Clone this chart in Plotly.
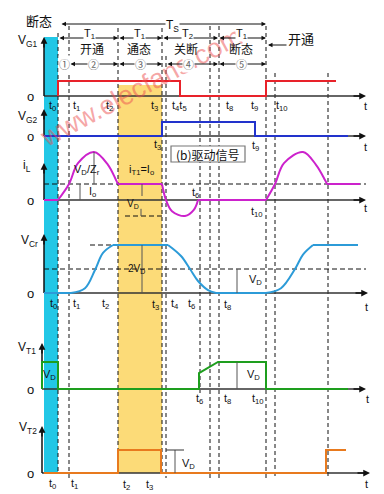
import plotly.graph_objects as go

# ---------------- DATA (arbitrary time units, t0 = 0; amplitudes in panel units) -------------
# dashed guide instants
guide_t = [0, 11, 60, 104, 108, 142, 152, 161, 208, 217, 270]

# V_G1 drive (0/1)
vg1_t = [0, 0, 122, 122, 208, 208, 278]
vg1_v = [0, 1, 1, 0, 0, 1, 1]
# V_G2 drive (0/1)
vg2_t = [-14, 104, 104, 197, 197, 290]
vg2_v = [0, 0, 1, 1, 0, 0]
# i_L (units of Io; VD/Zr = 2)
iL_line_t = [-14, 0, None, 60, 104, None, 140, 208, None, 269, 302]
iL_line_v = [0, 0, None, 1, 1, None, 0, 0, None, 1, 1]
iL_arc_t = [0, 11, 20, 36, 50, 58, 60, None, 104, 108, 114, 127, 136, 140, None,
            208, 217, 226, 245, 258, 267, 269]
iL_arc_v = [0, 1, 2.3, 3, 2.2, 1.25, 1, None, 1, 0, -0.7, -1, -0.6, 0, None,
            0, 1, 2.3, 3, 2.2, 1.25, 1]
# V_Cr (units of VD)
vcr_line_t = [-14, 13, None, 55, 110, None, 158, 208, None, 255, 300]
vcr_line_v = [0, 0, None, 2, 2, None, 0, 0, None, 2, 2]
vcr_curve_t = [13, 27, 37, 45, 55, None, 110, 123, 132, 140, 150, 158, None,
               208, 223, 237, 245, 255]
vcr_curve_v = [0, 0.2, 0.96, 1.67, 2, None, 2, 1.54, 1, 0.5, 0.12, 0, None,
               0, 0.2, 1, 1.6, 2]
# V_T1 (units of VD)
vt1_t = [-16, -16, 0, 0, 141, 141, 160, 208, 208, 290]
vt1_v = [0, 1, 1, 0, 0, 0.59, 1, 1, 0, 0]
# V_T2 (units of VD)
vt2_t = [-14, 60, 60, 103, 103, 268, 268, 288]
vt2_v = [0, 0, 1, 1, 0, 0, 1, 1]

# ---------------- LAYOUT ----------------------------------------------------------------
W, H = 384, 494
LAT = "Liberation Sans, Arial, sans-serif"
CJK = "Noto Sans CJK SC, sans-serif"
X0 = 50  # pixel position of t0

# panel: (baseline px, px per unit)
panels = {"y": (88, 15), "y2": (128, 14), "y3": (192, 16),
          "y4": (285, 24), "y5": (381, 27), "y6": (465, 23)}

fig = go.Figure()

def tr(x, y, yax, color, width=2, shape="linear"):
    fig.add_trace(go.Scatter(x=x, y=y, mode="lines", yaxis=yax,
                             line=dict(color=color, width=width, shape=shape, smoothing=1.0),
                             connectgaps=False, hoverinfo="skip", showlegend=False))

tr(vg1_t, vg1_v, "y", "#E8222A")
tr(vg2_t, vg2_v, "y2", "#2233CC")
tr(iL_line_t, iL_line_v, "y3", "#CC22CC")
tr(iL_arc_t, iL_arc_v, "y3", "#CC22CC", shape="spline")
tr(vcr_line_t, vcr_line_v, "y4", "#2C9BD8")
tr(vcr_curve_t, vcr_curve_v, "y4", "#2C9BD8", shape="spline")
tr(vt1_t, vt1_v, "y5", "#1E9E1E")
tr(vt2_t, vt2_v, "y6", "#E87A1E")

def px(x):
    return x / W

def py(y):
    return 1 - y / H

shapes = []
# coloured bands
shapes.append(dict(type="rect", xref="x", yref="paper", x0=-14, x1=0, y0=py(465), y1=py(29),
                   fillcolor="#22C7E6", line_width=0, layer="below"))
shapes.append(dict(type="rect", xref="x", yref="paper", x0=60, x1=104, y0=py(465), y1=py(77),
                   fillcolor="#FCDB78", line_width=0, layer="below"))
# dashed guides
g_ext = [(25, 465), (18, 470), (20, 465), (20, 465), (48, 470), (95, 385),
         (18, 470), (18, 470), (18, 470), (65, 470), (65, 470)]
for t, (a, b) in zip(guide_t, g_ext):
    shapes.append(dict(type="line", xref="x", yref="paper", x0=t, x1=t, y0=py(a), y1=py(b),
                       line=dict(color="#111", width=1, dash="4px,3px"), layer="below"))
# horizontal dashed references
def hdash(yax, v, ta, tb):
    shapes.append(dict(type="line", xref="x", yref=yax, x0=ta, x1=tb, y0=v, y1=v,
                       line=dict(color="#111", width=1, dash="5px,3px"), layer="below"))
hdash("y3", 1, -14, 308)
hdash("y3", -1, 67, 107)
hdash("y4", 2, 32, 56)
hdash("y4", 1, -14, 308)

# axes (lines below traces)
ax_top = {"y": 29, "y2": 101, "y3": 155, "y4": 226, "y5": 335, "y6": 418}
ax_end = {"y": 358, "y2": 358, "y3": 358, "y4": 360, "y5": 358, "y6": 362}
ax_x = {"y": 36, "y2": 36, "y3": 36, "y4": 36, "y5": 34, "y6": 34}
for k, (base, unit) in panels.items():
    shapes.append(dict(type="line", xref="paper", yref="paper", x0=px(ax_x[k]), x1=px(ax_end[k] - 4),
                       y0=py(base), y1=py(base), line=dict(color="#333", width=1.5), layer="below"))
    shapes.append(dict(type="line", xref="paper", yref="paper", x0=px(ax_x[k]), x1=px(ax_x[k]),
                       y0=py(base), y1=py(ax_top[k] + 4), line=dict(color="#111", width=1.5), layer="below"))

# marker lines (solid grey)
def vmark(yax, t, va, vb, color="#555"):
    shapes.append(dict(type="line", xref="x", yref=yax, x0=t, x1=t, y0=va, y1=vb,
                       line=dict(color=color, width=1)))
vmark("y3", 36, 1, 3)
vmark("y3", 22, 0, 1)
vmark("y3", 84, 1, 0.25)
vmark("y3", 83, -0.55, -1)
vmark("y4", 84, 0, 2)
vmark("y4", 179, 0, 1)
vmark("y5", 179, 0, 1)
vmark("y6", 117, 0, 1)
shapes.append(dict(type="line", xref="x", yref="y6", x0=108, x1=126, y0=1, y1=1,
                   line=dict(color="#333", width=1)))
# label box
shapes.append(dict(type="rect", xref="paper", yref="paper", x0=px(163), x1=px(237), y0=py(154), y1=py(138),
                   fillcolor="white", line=dict(color="#777", width=1.2), layer="above"))

ann = []

def txt(x, y, s, size=11, color="#111", family=LAT, bg=None, angle=0):
    d = dict(x=px(x), y=py(y), xref="paper", yref="paper", text=s, showarrow=False,
             font=dict(size=size, color=color, family=family), xanchor="center", yanchor="middle",
             textangle=angle)
    if bg:
        d["bgcolor"] = bg
        d["borderpad"] = 0
    ann.append(d)

def arrow(xh, yh, xt, yt, both=False, width=1.2, size=0.9, color="#111"):
    d = dict(x=px(xh), y=py(yh), xref="paper", yref="paper", ax=xt - xh, ay=yt - yh,
             showarrow=True, arrowhead=2, arrowsize=size, arrowwidth=width, arrowcolor=color, text="")
    if both:
        d["arrowside"] = "end+start"
        d["startarrowhead"] = 2
        d["startarrowsize"] = size
    ann.append(d)

# watermark (drawn first so other labels sit on top)
txt(133, 79, "www.elecfans.com", 27, color="rgba(236,80,80,0.5)", angle=-28)

# axis arrowheads
for k, (base, unit) in panels.items():
    arrow(ax_x[k], ax_top[k], ax_x[k], ax_top[k] + 12, width=1.5)
    arrow(ax_end[k], base, ax_end[k] - 14, base, width=1.5)

# header
txt(31, 13, "断态", 13, family=CJK)
arrow(258, 16, 52, 16, both=True, width=1)
txt(164, 18, "T<sub>S</sub>", 12, bg="white")
for a, b, lab, xc in [(50, 110, "T<sub>1</sub>", 81), (110, 154, "T<sub>1</sub>", 131),
                      (154, 210, "T<sub>2</sub>", 179), (210, 258, "T<sub>1</sub>", 233)]:
    arrow(b, 30, a, 30, both=True, width=1)
    txt(xc, 26, lab, 11, bg="white")
for s, xc in [("开通", 84), ("通态", 131), ("关断", 178), ("断态", 233)]:
    txt(xc, 41, s, 12, family=CJK)
for a, b, lab, xc in [(61, 110, "②", 85), (110, 154, "③", 132), (158, 210, "④", 180), (210, 258, "⑤", 233)]:
    arrow(b, 56, a, 56, both=True, width=1)
    txt(xc, 56, lab, 11, color="#666", family=CJK, bg="white")
txt(56, 56, "①", 11, color="#666", family=CJK, bg="white")
txt(293, 30, "开通", 13, family=CJK)
arrow(260, 37, 280, 37, width=1)

# panel labels
for s, x, y in [("V<sub>G1</sub>", 20, 33), ("V<sub>G2</sub>", 20, 109), ("i<sub>L</sub>", 19, 158),
                ("V<sub>Cr</sub>", 21, 233), ("V<sub>T1</sub>", 19, 340), ("V<sub>T2</sub>", 20, 420)]:
    txt(x, y, s, 12)
for k, (base, unit) in panels.items():
    txt(22, base, "o", 13)

# time labels
tl = [
    (44, 98, "t<sub>0</sub>"), (68, 98, "t<sub>1</sub>"), (101, 98, "t<sub>2</sub>"), (146, 98, "t<sub>3</sub>"),
    (171, 98, "t<sub>4</sub>t<sub>5</sub>"), (221, 98, "t<sub>8</sub>"), (246, 98, "t<sub>9</sub>"),
    (274, 98, "t<sub>10</sub>"), (357, 98, "t"),
    (149, 137, "t<sub>3</sub>"), (247, 138, "t<sub>9</sub>"), (357, 139, "t"),
    (187, 185, "t<sub>6</sub>"), (249, 204, "t<sub>10</sub>"), (357, 200, "t"),
    (45, 296, "t<sub>0</sub>"), (68, 296, "t<sub>1</sub>"), (97, 296, "t<sub>2</sub>"), (147, 297, "t<sub>3</sub>"),
    (167, 296, "t<sub>4</sub>"), (183, 296, "t<sub>6</sub>"), (219, 297, "t<sub>8</sub>"), (358, 299, "t"),
    (191, 391, "t<sub>6</sub>"), (219, 391, "t<sub>8</sub>"), (250, 391, "t<sub>10</sub>"), (359, 391, "t"),
    (44, 476, "t<sub>0</sub>"), (66, 476, "t<sub>1</sub>"), (118, 477, "t<sub>2</sub>"), (141, 477, "t<sub>3</sub>"),
    (358, 476, "t"),
]
for x, y, s in tl:
    txt(x, y, s, 11)

# in-panel annotations
txt(79, 162, "V<sub>D</sub>/Z<sub>r</sub>", 11)
txt(133, 162, "i<sub>T1</sub>=I<sub>o</sub>", 11)
txt(84, 184, "I<sub>o</sub>", 11)
txt(125, 196, "V<sub>D</sub>", 10)
txt(128, 261, "2V<sub>D</sub>", 10)
txt(247, 272, "V<sub>D</sub>", 11)
txt(41, 367, "V<sub>D</sub>", 11)
txt(245, 367, "V<sub>D</sub>", 11)
txt(180, 456, "V<sub>D</sub>", 11)
txt(200, 146, "(b)驱动信号", 12, family=CJK)

layout = dict(width=W, height=H, margin=dict(l=0, r=0, t=0, b=0),
              paper_bgcolor="white", plot_bgcolor="white", showlegend=False,
              xaxis=dict(range=[-X0, W - X0], visible=False, fixedrange=True),
              shapes=shapes, annotations=ann)
for i, (k, (base, unit)) in enumerate(panels.items()):
    name = "yaxis" if k == "y" else "yaxis" + k[1:]
    d = dict(range=[(base - H) / unit, base / unit], visible=False, domain=[0, 1], fixedrange=True)
    if k != "y":
        d["overlaying"] = "y"
    layout[name] = d
fig.update_layout(**layout)
fig.write_html("out.html")
